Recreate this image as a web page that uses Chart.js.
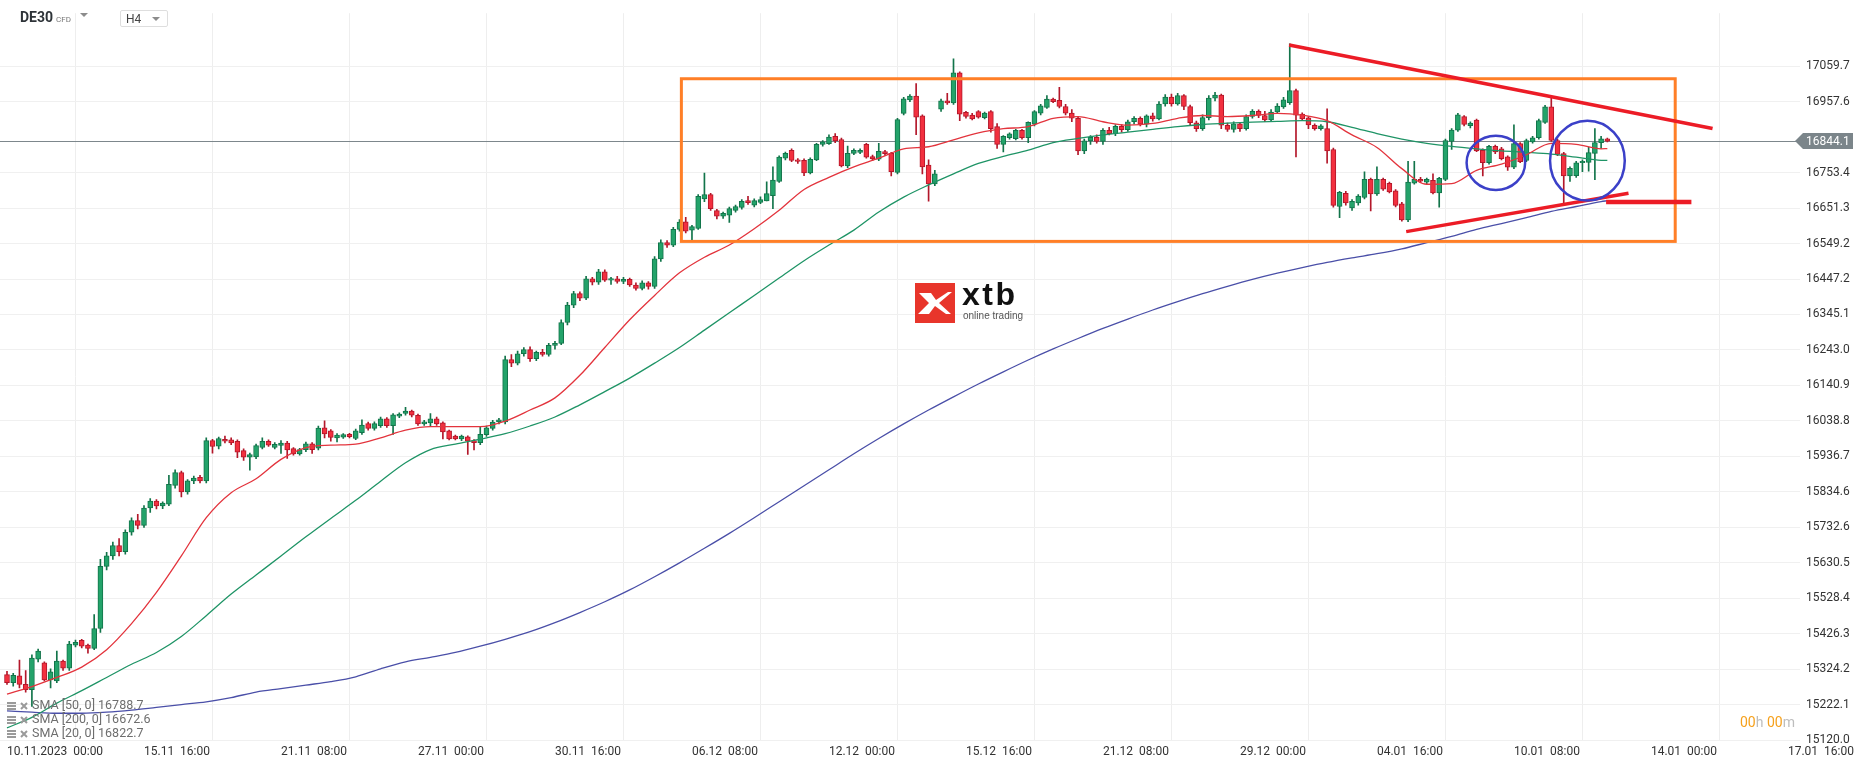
<!DOCTYPE html>
<html>
<head>
<meta charset="utf-8">
<title>DE30 H4</title>
<script src="https://cdn.jsdelivr.net/npm/chart.js@4.4.1/dist/chart.umd.min.js"></script>
<style>
  body { margin: 0; background: #fff; font-family: Roboto, "Noto Sans", sans-serif; }
  #wrap { position: relative; width: 1866px; height: 767px; overflow: hidden; }
  #chart { position: absolute; left: 0; top: 0; }
  .tri { display: inline-block; width: 0; height: 0; border-left: 4px solid transparent;
         border-right: 4px solid transparent; border-top: 4px solid #8c8c8c; vertical-align: middle; }
  #sym { position: absolute; left: 20px; top: 9px; color: #2e3338; font-size: 14px; font-weight: 700; }
  #sym small { font-size: 8px; font-weight: 400; color: #777; margin-left: 3px; }
  #sym .tri { margin-left: 9px; margin-top: -6px; }
  #tf { position: absolute; left: 120px; top: 10px; width: 41px; height: 15px; border: 1px solid #dedede;
        border-radius: 2px; font-size: 12px; color: #444; line-height: 16px; padding-left: 5px; box-sizing: content-box; }
  #tf .tri { position: absolute; left: 31px; top: 6px; }
  #logo { position: absolute; left: 915px; top: 283px; }
  #logo .box { position: absolute; left: 0; top: 0; width: 40px; height: 40px; background: #e8352b; }
  #logo .name { position: absolute; left: 47px; top: -7px; font: 700 32px "Liberation Sans", Arial, sans-serif;
                letter-spacing: 2.5px; color: #111; }
  #logo .sub { position: absolute; left: 48px; top: 27px; font: 400 10px "Liberation Sans", Arial, sans-serif;
               color: #555; white-space: nowrap; }
  #legend { position: absolute; left: 7px; top: 698px; font-size: 12.5px; color: #6e6e6e; }
  #legend div { height: 14px; line-height: 14px; white-space: nowrap; }
  #legend svg { vertical-align: -1px; margin-right: 4px; }
  #timer { position: absolute; left: 1740px; top: 714px; font-size: 14px; color: #bdbdbd; white-space: nowrap; }
  #timer b { font-weight: 400; color: #f6a11c; }
</style>
</head>
<body>
<div id="wrap">
  <canvas id="chart" width="1866" height="767"></canvas>
  <div id="sym">DE30<small>CFD</small><span class="tri"></span></div>
  <div id="tf">H4<span class="tri"></span></div>
  <div id="logo">
    <div class="box">
      <svg width="40" height="40" viewBox="0 0 40 40">
        <path d="M4 10 L16 10 L21 17 L33 9 L37 9 L24 20 L36 31 L31 31 L20 23 L14 31 L3 31 L14 20 Z" fill="#fff"/>
      </svg>
    </div>
    <div class="name">xtb</div>
    <div class="sub">online trading</div>
  </div>
  <div id="legend"></div>
  <div id="timer"><b>00</b>h <b>00</b>m</div>
</div>
<script>
// x axis: one tick every 22 candles (H4)
const xTickIdx = [0, 22, 44, 66, 88, 110, 132, 154, 176, 198, 220, 242, 264, 286];
const xTickLabels = ['10.11.2023  00:00', '15.11  16:00', '21.11  08:00', '27.11  00:00', '30.11  16:00',
  '06.12  08:00', '12.12  00:00', '15.12  16:00', '21.12  08:00', '29.12  00:00', '04.01  16:00',
  '10.01  08:00', '14.01  00:00', '17.01  16:00'];

// y axis ticks (16855.5 is hidden behind the price tag)
const yTicks = [15120.0, 15222.1, 15324.2, 15426.3, 15528.4, 15630.5, 15732.6, 15834.6, 15936.7, 16038.8,
  16140.9, 16243.0, 16345.1, 16447.2, 16549.2, 16651.3, 16753.4, 16957.6, 17059.7];

const lastPrice = 16844.1;

const openP = [
  15308, 15285, 15305, 15280, 15265, 15353, 15342, 15293, 15290, 15347,
  15327, 15393, 15407, 15393, 15384, 15441, 15620, 15650, 15680, 15662,
  15718, 15752, 15738, 15788, 15808, 15794, 15799, 15853, 15890, 15834,
  15866, 15876, 15866, 15982, 15966, 15986, 15984, 15980, 15953, 15934,
  15935, 15962, 15980, 15962, 15968, 15975, 15959, 15944, 15956, 15973,
  15960, 16019, 16010, 15990, 15992, 16000, 15988, 16005, 16031, 16017,
  16025, 16045, 16025, 16052, 16060, 16067, 16055, 16030, 16033, 16045,
  16033, 16010, 15995, 15987, 15993, 15982, 15976, 15999, 16017, 16036,
  16036, 16215, 16205, 16232, 16244, 16218, 16236, 16230, 16256, 16262,
  16322, 16372, 16405, 16392, 16448, 16438, 16468, 16444, 16448, 16440,
  16446, 16430, 16420, 16436, 16426, 16505, 16552, 16545, 16590, 16612,
  16588, 16593, 16678, 16690, 16644, 16628, 16631, 16645, 16653, 16673,
  16660, 16668, 16672, 16687, 16728, 16795, 16818, 16790, 16789, 16753,
  16790, 16835, 16837, 16858, 16849, 16773, 16809, 16812, 16835, 16800,
  16792, 16814, 16809, 16754, 16924, 16963, 16974, 16917, 16775, 16721,
  16936, 16960, 16954, 17041, 16927, 16919, 16929, 16912, 16929, 16886,
  16835, 16854, 16851, 16875, 16854, 16893, 16925, 16941, 16965, 16962,
  16944, 16925, 16910, 16816, 16845, 16855, 16843, 16875, 16866, 16887,
  16877, 16900, 16910, 16893, 16917, 16908, 16951, 16971, 16951, 16975,
  16944, 16897, 16880, 16912, 16968, 16977, 16890, 16878, 16894, 16880,
  16915, 16930, 16918, 16905, 16928, 16943, 16955, 16990, 16922, 16911,
  16890, 16880, 16880, 16820, 16656, 16694, 16652, 16666, 16682, 16734,
  16692, 16734, 16723, 16701, 16664, 16617, 16723, 16734, 16726, 16731,
  16695, 16734, 16843, 16876, 16915, 16889, 16905, 16818, 16782, 16829,
  16822, 16799, 16769, 16837, 16789, 16842, 16854, 16898, 16943, 16846,
  16808, 16744, 16745, 16782, 16783, 16809, 16840, 16851
];
const highP = [
  15318, 15312, 15350, 15320, 15365, 15382, 15345, 15325, 15376, 15350,
  15404, 15408, 15410, 15396, 15481, 15640, 15660, 15690, 15700, 15725,
  15760, 15770, 15795, 15815, 15812, 15806, 15882, 15898, 15894, 15870,
  15880, 15882, 15990, 15986, 15992, 15995, 15990, 15984, 15958, 15946,
  15972, 15990, 15984, 15976, 15982, 15980, 15962, 15960, 15978, 15976,
  16024, 16039, 16014, 16002, 16002, 16003, 16015, 16042, 16035, 16036,
  16050, 16048, 16060, 16062, 16078, 16070, 16058, 16040, 16060, 16050,
  16036, 16012, 15998, 15998, 15996, 15985, 16020, 16024, 16040, 16046,
  16225, 16230, 16240, 16250, 16252, 16240, 16245, 16262, 16268, 16330,
  16380, 16412, 16410, 16455, 16452, 16475, 16474, 16452, 16455, 16452,
  16450, 16436, 16442, 16440, 16512, 16560, 16558, 16596, 16618, 16625,
  16602, 16690, 16752, 16694, 16648, 16640, 16654, 16660, 16676, 16685,
  16678, 16684, 16727, 16770, 16802, 16813, 16822, 16794, 16793, 16796,
  16838, 16846, 16862, 16866, 16853, 16830, 16822, 16822, 16838, 16804,
  16838, 16818, 16812, 16910, 16970, 16978, 17010, 16920, 16790, 16760,
  16965, 16982, 17081, 17044, 16930, 16924, 16932, 16928, 16932, 16895,
  16860, 16868, 16878, 16878, 16900, 16932, 16950, 16975, 16968, 16999,
  16950, 16935, 16915, 16850, 16860, 16862, 16880, 16884, 16892, 16892,
  16905, 16915, 16914, 16920, 16925, 16958, 16978, 16980, 16982, 16978,
  16948, 16902, 16920, 16975, 16985, 16980, 16896, 16900, 16898, 16920,
  16935, 16934, 16930, 16935, 16952, 16970, 17124, 16994, 16926, 16915,
  16894, 16892, 16937, 16824, 16700, 16700, 16676, 16690, 16756, 16738,
  16770, 16738, 16726, 16705, 16668, 16786, 16786, 16740, 16738, 16750,
  16740, 16850, 16880, 16924, 16918, 16900, 16908, 16822, 16832, 16833,
  16826, 16802, 16891, 16840, 16850, 16858, 16908, 16947, 16969, 16850,
  16812, 16770, 16786, 16790, 16826, 16880, 16858, 16853
];
const lowP = [
  15280, 15275, 15270, 15258, 15217, 15345, 15290, 15270, 15285, 15320,
  15320, 15388, 15385, 15370, 15380, 15430, 15610, 15640, 15650, 15655,
  15710, 15728, 15732, 15775, 15785, 15786, 15795, 15845, 15820, 15828,
  15858, 15860, 15860, 15946, 15958, 15975, 15970, 15933, 15925, 15897,
  15930, 15958, 15965, 15958, 15945, 15931, 15940, 15940, 15950, 15945,
  15955, 15990, 15980, 15978, 15988, 15990, 15985, 16000, 16012, 16012,
  16020, 16020, 16000, 16048, 16055, 16050, 16026, 16026, 16025, 16026,
  15987, 15984, 15984, 15982, 15942, 15955, 15970, 15994, 16012, 16030,
  16030, 16195, 16200, 16225, 16210, 16212, 16225, 16225, 16245, 16258,
  16315, 16365, 16385, 16388, 16430, 16432, 16440, 16432, 16435, 16434,
  16426, 16415, 16416, 16418, 16420, 16498, 16538, 16540, 16585, 16580,
  16557, 16590, 16670, 16645, 16620, 16622, 16610, 16640, 16648, 16662,
  16655, 16664, 16672, 16650, 16725, 16790, 16785, 16780, 16745, 16750,
  16788, 16830, 16835, 16840, 16770, 16768, 16805, 16808, 16795, 16788,
  16788, 16803, 16744, 16750, 16920, 16958, 16863, 16750, 16671, 16716,
  16930, 16950, 16950, 16903, 16910, 16905, 16910, 16908, 16870, 16823,
  16813, 16850, 16848, 16850, 16840, 16888, 16920, 16938, 16955, 16940,
  16920, 16900, 16805, 16808, 16835, 16838, 16835, 16862, 16860, 16870,
  16872, 16894, 16888, 16885, 16902, 16905, 16945, 16945, 16948, 16935,
  16890, 16872, 16875, 16905, 16960, 16880, 16872, 16870, 16872, 16876,
  16910, 16912, 16900, 16900, 16924, 16938, 16950, 16799, 16905, 16880,
  16876, 16876, 16781, 16654, 16624, 16660, 16645, 16660, 16678, 16643,
  16688, 16702, 16695, 16655, 16614, 16612, 16720, 16725, 16722, 16692,
  16654, 16730, 16820, 16872, 16888, 16882, 16814, 16744, 16778, 16808,
  16790, 16760, 16765, 16782, 16785, 16838, 16850, 16895, 16843, 16802,
  16666, 16728, 16740, 16756, 16758, 16733, 16823, 16842
];
const closeP = [
  15285, 15306, 15280, 15265, 15356, 15376, 15293, 15316, 15347, 15327,
  15396, 15401, 15390, 15384, 15441, 15620, 15650, 15680, 15662, 15718,
  15752, 15738, 15788, 15808, 15794, 15802, 15856, 15890, 15834, 15866,
  15874, 15866, 15982, 15965, 15988, 15980, 15975, 15949, 15934, 15942,
  15968, 15980, 15969, 15971, 15975, 15955, 15944, 15956, 15973, 15956,
  16018, 16001, 15991, 15998, 15999, 15993, 16010, 16027, 16017, 16031,
  16045, 16025, 16056, 16058, 16067, 16055, 16030, 16036, 16045, 16030,
  16007, 15987, 15987, 15995, 15980, 15976, 16000, 16019, 16035, 16042,
  16215, 16205, 16232, 16244, 16218, 16236, 16230, 16256, 16262, 16322,
  16372, 16405, 16392, 16448, 16438, 16468, 16444, 16448, 16440, 16446,
  16430, 16420, 16436, 16426, 16505, 16552, 16545, 16590, 16611, 16585,
  16598, 16685, 16690, 16650, 16628, 16636, 16650, 16656, 16671, 16667,
  16673, 16676, 16693, 16732, 16798, 16809, 16789, 16786, 16753, 16792,
  16835, 16842, 16856, 16845, 16773, 16809, 16818, 16818, 16798, 16793,
  16815, 16808, 16756, 16906, 16966, 16974, 16913, 16770, 16721, 16750,
  16960, 16954, 17041, 16922, 16915, 16908, 16913, 16925, 16880, 16835,
  16858, 16865, 16875, 16854, 16898, 16929, 16946, 16965, 16958, 16944,
  16925, 16910, 16816, 16845, 16855, 16843, 16875, 16866, 16887, 16877,
  16900, 16910, 16893, 16917, 16908, 16951, 16971, 16951, 16975, 16944,
  16897, 16880, 16912, 16968, 16977, 16890, 16878, 16894, 16880, 16915,
  16930, 16918, 16905, 16928, 16945, 16963, 16990, 16919, 16908, 16891,
  16880, 16888, 16816, 16659, 16697, 16666, 16671, 16686, 16734, 16692,
  16734, 16706, 16698, 16659, 16617, 16726, 16734, 16729, 16734, 16695,
  16737, 16846, 16876, 16920, 16892, 16896, 16816, 16782, 16829, 16813,
  16794, 16769, 16837, 16785, 16846, 16854, 16903, 16943, 16846, 16806,
  16744, 16766, 16782, 16786, 16811, 16840, 16851, 16844.1
];

// moving averages every 4th candle (last one = final candle)
const smaIdx = [0, 4, 8, 12, 16, 20, 24, 28, 32, 36, 40, 44, 48, 52, 56, 60, 64, 68, 72, 76,
  80, 84, 88, 92, 96, 100, 104, 108, 112, 116, 120, 124, 128, 132, 136, 140, 144, 148, 152, 156,
  160, 164, 168, 172, 176, 180, 184, 188, 192, 196, 200, 204, 208, 212, 216, 220, 224, 228, 232, 236,
  240, 244, 248, 252, 256, 257];
const sma20 = [15252, 15274, 15300, 15330, 15380, 15455, 15545, 15650, 15760, 15832,
  15872, 15928, 15962, 15969, 15972, 15990, 16012, 16022, 16022, 16022,
  16038, 16070, 16105, 16170, 16250, 16330, 16400, 16465, 16510, 16545,
  16592, 16645, 16705, 16740, 16770, 16795, 16822, 16828, 16848, 16868,
  16880, 16886, 16910, 16915, 16900, 16890, 16895, 16910, 16918, 16915,
  16918, 16924, 16919, 16903, 16862, 16826, 16765, 16720, 16722, 16760,
  16778, 16805, 16838, 16835, 16822, 16822.7];
const sma50 = [15155, 15185, 15226, 15262, 15300, 15338, 15372, 15418, 15478, 15540,
  15595, 15650, 15705, 15758, 15810, 15865, 15918, 15956, 15972, 15986,
  16002, 16024, 16050, 16085, 16123, 16162, 16205, 16250, 16300, 16350,
  16400, 16450, 16500, 16545, 16588, 16640, 16683, 16718, 16750, 16780,
  16800, 16818, 16840, 16852, 16862, 16870, 16878, 16886, 16892, 16896,
  16899, 16901, 16903, 16900, 16884, 16866, 16850, 16838, 16829, 16822,
  16816, 16812, 16807, 16798, 16789, 16788.7];
const sma200 = [15204, 15200, 15197, 15197, 15200, 15206, 15214, 15222, 15230, 15242,
  15258, 15268, 15278, 15288, 15302, 15325, 15345, 15358, 15372, 15390,
  15410, 15432, 15458, 15487, 15518, 15552, 15590, 15630, 15672, 15715,
  15760, 15806, 15852, 15898, 15944, 15988, 16030, 16070, 16108, 16145,
  16180, 16214, 16246, 16276, 16305, 16332, 16358, 16382, 16405, 16426,
  16446, 16464, 16480, 16495, 16508, 16520, 16534, 16552, 16570, 16590,
  16607, 16624, 16642, 16656, 16670, 16672.6];

// drawings on the chart, in candle index / price units
const box = { x0: 108.3, x1: 267.9, y0: 16555.5, y1: 17023.8 };
const redLines = [
  { x0: 205.9, y0: 17121, x1: 273.9, y1: 16880.7 },
  { x0: 224.7, y0: 16583.7, x1: 260.4, y1: 16694 },
  { x0: 256.8, y0: 16668.6, x1: 270.5, y1: 16668.6 }
];
const redLineWidths = [3.5, 3.5, 4.5];
const rings = [
  { x: 239.1, y: 16781.7, rx: 4.7, ry: 78 },
  { x: 253.8, y: 16788, rx: 6.0, ry: 115 }
];

const legendRows = [
  'SMA [50,  0] 16788.7',
  'SMA [200,  0] 16672.6',
  'SMA [20,  0] 16822.7'
];

const upFill = '#23a36a', upLine = '#12744a';
const dnFill = '#f2303f', dnLine = '#b3172a';

const legendEl = document.getElementById('legend');
legendRows.forEach(t => {
  const row = document.createElement('div');
  row.innerHTML = '<svg width="9" height="8"><rect x="0" y="0" width="9" height="2" fill="#9a9a9a"/>' +
    '<rect x="0" y="3" width="9" height="2" fill="#9a9a9a"/><rect x="0" y="6" width="9" height="2" fill="#9a9a9a"/></svg>' +
    '<svg width="8" height="8"><path d="M1 1 L7 7 M7 1 L1 7" stroke="#9a9a9a" stroke-width="2"/></svg>' + t;
  legendEl.appendChild(row);
});

const candleIdx = closeP.map((_, i) => i);
const isUp = closeP.map((c, i) => c >= openP[i]);
const pts = vals => smaIdx.map((x, i) => ({ x: x, y: vals[i] }));

const drawings = {
  id: 'drawings',
  beforeDatasetsDraw(chart) {
    const { ctx, chartArea, scales: { y } } = chart;
    const py = Math.round(y.getPixelForValue(lastPrice)) + 0.5;
    ctx.save();
    ctx.strokeStyle = '#7d878c';
    ctx.lineWidth = 1;
    ctx.beginPath();
    ctx.moveTo(chartArea.left, py);
    ctx.lineTo(chartArea.right, py);
    ctx.stroke();
    ctx.restore();
  },
  afterDatasetsDraw(chart) {
    const { ctx, scales: { x, y } } = chart;
    ctx.save();
    ctx.strokeStyle = '#ff7f27';
    ctx.lineWidth = 3;
    const bx = x.getPixelForValue(box.x0), by = y.getPixelForValue(box.y1);
    ctx.strokeRect(bx, by, x.getPixelForValue(box.x1) - bx, y.getPixelForValue(box.y0) - by);

    ctx.strokeStyle = '#ec1c26';
    redLines.forEach((l, i) => {
      ctx.lineWidth = redLineWidths[i];
      ctx.beginPath();
      ctx.moveTo(x.getPixelForValue(l.x0), y.getPixelForValue(l.y0));
      ctx.lineTo(x.getPixelForValue(l.x1), y.getPixelForValue(l.y1));
      ctx.stroke();
    });

    ctx.strokeStyle = '#3b40c8';
    ctx.lineWidth = 2.5;
    rings.forEach(r => {
      const cx = x.getPixelForValue(r.x), cy = y.getPixelForValue(r.y);
      const rx = x.getPixelForValue(r.x + r.rx) - cx;
      const ry = cy - y.getPixelForValue(r.y + r.ry);
      ctx.beginPath();
      ctx.ellipse(cx, cy, rx, ry, 0, 0, Math.PI * 2);
      ctx.stroke();
    });
    ctx.restore();
  },
  afterDraw(chart) {
    const { ctx, chartArea, scales: { y } } = chart;
    const py = Math.round(y.getPixelForValue(lastPrice));
    const x0 = chartArea.right - 5;
    ctx.save();
    ctx.fillStyle = '#7b858a';
    ctx.beginPath();
    ctx.moveTo(x0, py);
    ctx.lineTo(x0 + 8, py - 8);
    ctx.lineTo(x0 + 58, py - 8);
    ctx.lineTo(x0 + 58, py + 8);
    ctx.lineTo(x0 + 8, py + 8);
    ctx.closePath();
    ctx.fill();
    ctx.fillStyle = '#fff';
    ctx.font = '12px Roboto';
    ctx.textBaseline = 'middle';
    ctx.fillText(lastPrice.toFixed(1), chartArea.right + 6, py + 0.5);
    ctx.restore();
  }
};

Chart.defaults.font.family = 'Roboto';
Chart.defaults.font.size = 12;

new Chart(document.getElementById('chart'), {
  type: 'bar',
  data: {
    datasets: [
      { type: 'line', label: 'SMA 20', data: pts(sma20), borderColor: '#e3343d', borderWidth: 1.3,
        pointRadius: 0, cubicInterpolationMode: 'monotone', order: 0 },
      { type: 'line', label: 'SMA 50', data: pts(sma50), borderColor: '#1f9466', borderWidth: 1.3,
        pointRadius: 0, cubicInterpolationMode: 'monotone', order: 0 },
      { type: 'line', label: 'SMA 200', data: pts(sma200), borderColor: '#4a4fa8', borderWidth: 1.3,
        pointRadius: 0, cubicInterpolationMode: 'monotone', order: 0 },
      { label: 'wick', data: candleIdx.map(i => ({ x: i, y: [lowP[i], highP[i]] })),
        backgroundColor: isUp.map(u => u ? upLine : dnLine), barThickness: 1, grouped: false, order: 2 },
      { label: 'body', data: candleIdx.map(i => ({ x: i, y: [openP[i], closeP[i]] })),
        backgroundColor: isUp.map(u => u ? upFill : dnFill), borderColor: isUp.map(u => u ? upLine : dnLine),
        borderWidth: 1, borderSkipped: false, barThickness: 5, minBarLength: 1.5, grouped: false, order: 1 }
    ]
  },
  options: {
    responsive: false,
    animation: false,
    events: [],
    layout: { padding: 0 },
    plugins: { legend: { display: false }, tooltip: { enabled: false } },
    scales: {
      x: {
        type: 'linear', min: -1.124, max: 287.94, offset: false,
        grid: { color: '#eeeeee', drawTicks: false },
        border: { display: false },
        afterBuildTicks: s => { s.ticks = xTickIdx.map(v => ({ value: v })); },
        afterFit: s => { s.height = 27; },
        ticks: { autoSkip: false, maxRotation: 0, align: 'start', padding: 5, color: '#333',
                 callback: (v, i) => xTickLabels[i] }
      },
      y: {
        position: 'right', min: 15120, max: 17212.5,
        grid: { color: '#f0f0f0', drawTicks: false },
        border: { display: false },
        afterBuildTicks: s => { s.ticks = yTicks.map(v => ({ value: v })); },
        afterFit: s => { s.width = 66; },
        ticks: { padding: 6, color: '#333', callback: v => v.toFixed(1) }
      }
    }
  },
  plugins: [drawings]
});
</script>
</body>
</html>
